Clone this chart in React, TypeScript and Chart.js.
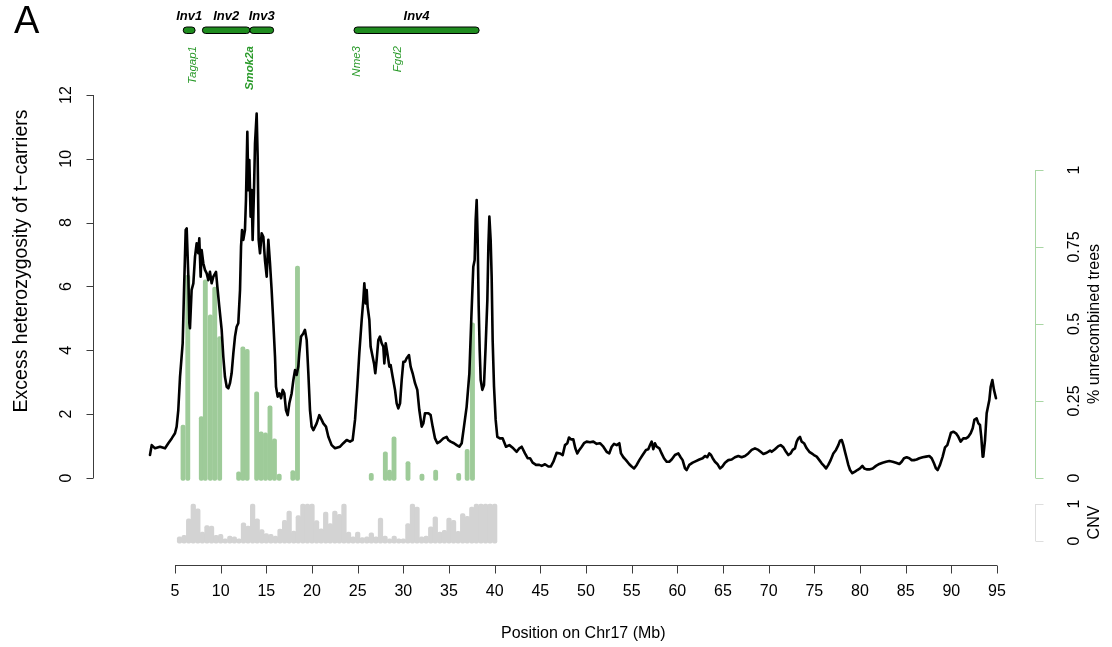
import React, { useEffect, useRef } from "react";
import { Chart, registerables } from "chart.js";

Chart.register(...registerables);

// Excess heterozygosity of t-carriers along chromosome 17 (position in Mb)
const positionMb = [
  2.26, 2.45, 2.81, 3.36, 3.91, 4.27, 4.64, 5.0, 5.18, 5.36, 5.55, 5.84, 5.99, 6.17, 6.28, 6.46, 6.57, 6.64,
  6.82, 7.01, 7.19, 7.37, 7.55, 7.66, 7.81, 7.92, 8.1, 8.28, 8.47, 8.65, 8.83, 9.01, 9.2, 9.49, 9.64, 9.85,
  10.11, 10.29, 10.47, 10.66, 10.84, 11.02, 11.2, 11.39, 11.57, 11.75, 11.93, 12.12, 12.23, 12.34, 12.48,
  12.66, 12.77, 12.92, 13.03, 13.14, 13.28, 13.39, 13.5, 13.65, 13.76, 13.94, 14.05, 14.16, 14.31, 14.49,
  14.67, 14.85, 15.04, 15.22, 15.4, 15.58, 15.77, 15.95, 16.06, 16.24, 16.42, 16.61, 16.79, 16.97, 17.15,
  17.34, 17.52, 17.77, 17.96, 18.14, 18.32, 18.5, 18.61, 18.8, 19.05, 19.23, 19.42, 19.6, 19.78, 19.96,
  20.15, 20.51, 20.8, 21.06, 21.24, 21.53, 21.79, 22.15, 22.52, 23.07,
  23.43, 23.8, 24.16, 24.45, 24.71, 24.96, 25.18, 25.44, 25.62, 25.73, 25.88, 25.99, 26.09, 26.28, 26.42,
  26.64, 26.79, 26.93, 27.08, 27.26, 27.44, 27.63, 27.81, 27.92, 28.07, 28.25, 28.47, 28.61, 28.83, 29.09,
  29.27, 29.45, 29.64, 29.82, 30.0, 30.18, 30.36, 30.62, 30.8, 31.02, 31.28, 31.53, 31.75, 32.01, 32.19,
  32.37, 32.74, 32.99, 33.21, 33.47, 33.72, 34.01, 34.38, 34.74, 34.93, 35.18, 35.55, 35.84, 36.13, 36.39,
  36.64, 36.93, 37.23, 37.45, 37.66, 37.81, 37.92, 38.03, 38.14, 38.25, 38.36, 38.47, 38.65, 38.83, 39.01,
  39.2, 39.31, 39.42, 39.56, 39.67, 39.78, 39.93, 40.11, 40.29, 40.58, 40.88, 41.24, 41.61, 42.04, 42.41,
  42.7, 42.96, 43.32, 43.61, 43.87,
  44.16, 44.53, 44.89, 45.15, 45.51, 45.88, 46.14, 46.43, 46.79, 47.15, 47.45, 47.7, 47.96, 48.14, 48.36,
  48.61, 48.83, 49.05, 49.27, 49.53, 49.78, 50.07, 50.44, 50.8, 51.17, 51.53, 51.9, 52.26, 52.55, 52.81,
  53.07, 53.36, 53.65, 53.83, 54.09, 54.38, 54.74, 55.0, 55.26, 55.55, 55.84, 56.2, 56.57, 56.82, 57.01,
  57.19, 57.37, 57.55, 57.74, 58.03, 58.28, 58.54, 58.83, 59.12, 59.38, 59.74, 60.11, 60.36, 60.58, 60.84,
  61.02, 61.31, 61.68, 62.04, 62.41, 62.77, 63.03, 63.28, 63.5, 63.69, 63.87, 64.12, 64.38, 64.67, 64.93,
  65.22, 65.58, 65.95, 66.31, 66.68, 67.04, 67.41, 67.77, 68.14, 68.5, 68.87, 69.12, 69.42, 69.78, 70.15,
  70.33, 70.69, 71.06, 71.31, 71.61, 71.9, 72.15, 72.41, 72.63, 72.88, 73.07, 73.25, 73.43, 73.61, 73.87,
  74.16, 74.45, 74.71, 74.96, 75.26, 75.55, 75.8, 76.06, 76.28, 76.53, 76.79, 77.08, 77.37, 77.63, 77.81,
  78.0, 78.18, 78.36, 78.54, 78.72, 78.91, 79.16, 79.45, 79.71, 80.0, 80.26, 80.47, 80.73, 81.02, 81.39,
  81.75, 82.12, 82.48, 82.85, 83.21, 83.58, 83.94, 84.31, 84.56, 84.82, 85.11, 85.4, 85.66, 85.91, 86.2,
  86.5, 86.86, 87.23, 87.59, 87.85, 88.1, 88.32, 88.5, 88.76, 89.05, 89.31, 89.56, 89.78, 89.96, 90.22,
  90.51, 90.77, 91.02, 91.31, 91.61, 91.86, 92.12, 92.34, 92.52, 92.77, 92.96, 93.14, 93.28, 93.43, 93.5,
  93.69, 93.87, 94.05, 94.16, 94.31, 94.49, 94.67, 94.89,
];
const excessHet = [
  0.72, 1.03, 0.93, 0.98, 0.93, 1.09, 1.24, 1.4, 1.61, 2.13, 3.17, 4.22, 5.89, 7.77, 7.82, 6.31, 4.85, 4.69,
  5.89, 6.1, 6.93, 7.35, 7.04, 7.51, 6.31, 7.14, 6.73, 6.52, 6.41, 6.2, 6.46, 6.1, 6.31, 6.46, 5.99, 5.37,
  4.64, 3.8, 3.17, 2.86, 2.81, 2.97, 3.28, 3.91, 4.43, 4.74, 4.85, 5.89, 7.25, 7.77, 7.46,
  7.77, 8.71, 10.85, 9.02, 9.96, 8.19, 9.02, 7.46, 9.02, 10.48, 11.42, 10.07, 7.46, 7.04, 7.67,
  7.56, 6.83, 6.31, 7.46, 6.73, 5.89, 4.85, 3.8, 2.86, 2.55, 2.65, 2.5, 2.76, 2.65, 2.13,
  1.97, 2.34, 2.65, 3.07, 3.38, 3.23, 3.49, 3.91, 4.43, 4.53, 4.64, 4.32, 3.28, 2.13, 1.61,
  1.5, 1.71, 1.97, 1.82, 1.71, 1.61, 1.29, 1.03, 0.93, 0.98,
  1.09, 1.19, 1.14, 1.19, 1.82, 2.86, 3.91, 4.95, 5.58, 6.1, 5.47, 5.89, 5.37, 4.95, 4.11,
  3.8, 3.59, 3.28, 3.7, 4.32, 4.43, 4.22, 4.11, 3.59, 4.22, 3.91, 3.49, 3.54, 3.17, 2.76,
  2.34, 2.18, 2.34, 3.07, 3.64, 3.64, 3.75, 3.85, 3.49, 3.28, 2.97, 2.76, 2.13, 1.61, 1.71,
  2.03, 2.03, 1.97, 1.61, 1.24, 1.09, 1.14, 1.24, 1.29, 1.19, 1.14, 1.09, 1.03, 0.98, 1.09,
  1.61, 2.23, 3.28, 5.05, 6.62, 6.83, 8.08, 8.71, 7.46, 5.37, 4.01, 3.07, 2.76, 2.91, 4.11,
  5.58, 7.25, 8.19, 7.46, 6.31, 4.32, 2.86, 1.82, 1.29, 1.24, 1.24, 0.98, 1.03, 0.93, 0.82,
  0.93, 0.98, 0.77, 0.62, 0.62,
  0.48, 0.41, 0.41, 0.38, 0.43, 0.36, 0.36, 0.51, 0.79, 0.77, 0.72, 1.03, 1.09, 1.27, 1.21,
  1.21, 0.93, 0.77, 0.88, 0.98, 1.09, 1.14, 1.12, 1.14, 1.07, 1.09, 0.98, 0.82, 0.77, 0.98,
  1.07, 1.03, 1.09, 0.77, 0.65, 0.56, 0.43, 0.36, 0.3, 0.41, 0.56, 0.72, 0.88, 0.9, 1.03,
  1.14, 0.9, 1.09, 0.98, 0.93, 0.77, 0.62, 0.51, 0.51, 0.58, 0.72, 0.77, 0.65, 0.56, 0.3,
  0.25, 0.41, 0.48, 0.53, 0.58, 0.62, 0.69, 0.65, 0.77, 0.72, 0.62, 0.51, 0.44, 0.3, 0.36,
  0.48, 0.56, 0.58, 0.65, 0.69, 0.65, 0.69, 0.77, 0.88, 0.93, 0.88, 0.82, 0.75, 0.79, 0.86,
  0.82, 0.9, 1.0, 1.03, 0.96, 0.82, 0.72, 0.77, 0.88, 0.93, 1.14, 1.24, 1.29, 1.14, 1.09,
  0.93, 0.82, 0.77, 0.72, 0.67, 0.56, 0.46, 0.38, 0.3, 0.41, 0.56, 0.77, 0.88, 1.03, 1.17,
  1.19, 1.03, 0.82, 0.62, 0.41, 0.25, 0.15, 0.2, 0.25, 0.3, 0.38, 0.3, 0.27, 0.27, 0.3,
  0.38, 0.44, 0.48, 0.51, 0.53, 0.51, 0.48, 0.44, 0.51, 0.62, 0.65, 0.62, 0.56, 0.56, 0.58,
  0.62, 0.65, 0.67, 0.69, 0.62, 0.46, 0.3, 0.25, 0.41, 0.67, 0.96, 1.03, 1.24, 1.42, 1.45,
  1.4, 1.29, 1.14, 1.24, 1.24, 1.29, 1.4, 1.56, 1.82, 1.87, 1.71, 1.66, 1.29, 0.67, 0.67,
  1.19, 2.03, 2.29, 2.44, 2.86, 3.07, 2.76, 2.5,
];

// Share of unrecombined trees (right axis)
const treePosMb = [
  5.88, 6.4, 7.88, 8.32, 8.87, 9.35, 9.89, 11.97, 12.43, 12.9, 13.94, 14.43, 14.91, 15.4, 15.89, 16.41,
  17.9, 18.41, 26.49, 28.03, 28.49, 28.98, 30.51, 32.04, 33.54, 36.06, 36.99, 37.57,
];
const treeShare = [
  0.172, 0.659, 0.199, 0.643, 0.53, 0.62, 0.459, 0.02, 0.426, 0.418, 0.28, 0.15, 0.147, 0.234, 0.127, 0.013,
  0.024, 0.688, 0.015, 0.085, 0.026, 0.134, 0.053, 0.013, 0.026, 0.015, 0.093, 0.504,
];

// Copy-number variation in 0.5 Mb windows
const cnvPosMb = [
  5.5, 6, 6.5, 7, 7.5, 8, 8.5, 9, 9.5, 10, 10.5, 11, 11.5, 12, 12.5, 13, 13.5, 14, 14.5, 15, 15.5, 16, 16.5,
  17, 17.5, 18, 18.5, 19, 19.5, 20, 20.5, 21, 21.5, 22, 22.5, 23, 23.5, 24, 24.5, 25, 25.5, 26, 26.5, 27,
  27.5, 28, 28.5, 29, 29.5, 30, 30.5, 31, 31.5, 32, 32.5, 33, 33.5, 34, 34.5, 35, 35.5, 36, 36.5, 37, 37.5,
  38, 38.5, 39, 39.5, 40,
];
const cnvValue = [
  0.11, 0.15, 0.6, 1.0, 0.87, 0.24, 0.42, 0.4, 0.15, 0.18,
  0.06, 0.13, 0.11, 0.06, 0.49, 0.4, 1.0, 0.6, 0.31, 0.2,
  0.18, 0.13, 0.32, 0.56, 0.81, 0.27, 0.69, 1.0, 1.0, 1.0,
  0.55, 0.33, 0.78, 0.47, 0.81, 0.72, 1.0, 0.24, 0.11, 0.24,
  0.09, 0.11, 0.22, 0.11, 0.62, 0.13, 0.06, 0.13, 0.06, 0.06,
  0.47, 1.0, 0.92, 0.11, 0.13, 0.38, 0.65, 0.24, 0.29, 0.62,
  0.56, 0.26, 0.74, 0.67, 0.92, 1.0, 1.0, 1.0, 1.0, 1.0,
];

// Axis ticks
const xTicks = [5, 10, 15, 20, 25, 30, 35, 40, 45, 50, 55, 60, 65, 70, 75, 80, 85, 90, 95];
const hetTicks = [0, 2, 4, 6, 8, 10, 12];
const treeTicks = [0, 0.25, 0.5, 0.75, 1];
const treeTickLabels = ["0", "0.25", "0.5", "0.75", "1"];
const cnvTicks = [0, 1];

// Inversions and genes annotated above the plot
const invNames = ["Inv1", "Inv2", "Inv3", "Inv4"];
const invStartMb = [5.9, 8.0, 13.2, 24.6];
const invEndMb = [7.2, 13.2, 15.8, 38.3];
const geneNames = ["Tagap1", "Smok2a", "Nme3", "Fgd2"];
const genePosMb = [6.9, 13.2, 24.9, 29.4];
const geneBold = [false, true, false, false];

const FONT = '"Liberation Sans", Arial, Helvetica, sans-serif';
const TREE_GREEN = "#9ecb99";
const AXIS_GREEN = "#a9d6a4";
const CNV_GREY = "#d3d3d3";
const INV_GREEN = "#1f8c1f";
const GENE_GREEN = "#2a9a2a";

function vText(ctx: CanvasRenderingContext2D, text: string, x: number, y: number) {
  ctx.save();
  ctx.translate(x, y);
  ctx.rotate(-Math.PI / 2);
  ctx.fillText(text, 0, 0);
  ctx.restore();
}

const frame = {
  id: "frame",
  afterDraw(chart: any) {
    const { ctx, chartArea: area, scales } = chart;
    const sx = scales.x;
    const sy = scales.y;
    const sg = scales.y2;
    const sc = scales.y3;
    const L = area.left;
    const R = area.right;
    const B = area.bottom;

    ctx.save();
    ctx.lineWidth = 1;
    ctx.textAlign = "center";
    ctx.textBaseline = "middle";
    ctx.font = `16px ${FONT}`;
    ctx.fillStyle = "#000";

    // bottom axis
    const yb = Math.round(B) + 0.5;
    ctx.strokeStyle = "#3c3c3c";
    ctx.beginPath();
    ctx.moveTo(sx.getPixelForValue(xTicks[0]), yb);
    ctx.lineTo(sx.getPixelForValue(xTicks[xTicks.length - 1]), yb);
    xTicks.forEach((t) => {
      const p = Math.round(sx.getPixelForValue(t)) + 0.5;
      ctx.moveTo(p, yb);
      ctx.lineTo(p, yb + 8);
    });
    ctx.stroke();
    xTicks.forEach((t) => ctx.fillText(String(t), sx.getPixelForValue(t), B + 27));
    ctx.fillText("Position on Chr17 (Mb)", sx.getPixelForValue(49.7), B + 69);

    // left axis
    const xl = Math.round(L) + 0.5;
    ctx.beginPath();
    ctx.moveTo(xl, sy.getPixelForValue(hetTicks[0]));
    ctx.lineTo(xl, sy.getPixelForValue(hetTicks[hetTicks.length - 1]));
    hetTicks.forEach((t) => {
      const p = Math.round(sy.getPixelForValue(t)) + 0.5;
      ctx.moveTo(xl, p);
      ctx.lineTo(xl - 7, p);
    });
    ctx.stroke();
    hetTicks.forEach((t) => vText(ctx, String(t), L - 26, sy.getPixelForValue(t)));
    ctx.font = `19.5px ${FONT}`;
    vText(ctx, "Excess heterozygosity of t\u2212carriers", L - 71, sy.getPixelForValue(6.8));
    ctx.font = `16px ${FONT}`;

    // right axis: unrecombined trees
    const xr = Math.round(R) + 0.5;
    ctx.strokeStyle = AXIS_GREEN;
    ctx.beginPath();
    ctx.moveTo(xr, sg.getPixelForValue(treeTicks[0]));
    ctx.lineTo(xr, sg.getPixelForValue(treeTicks[treeTicks.length - 1]));
    treeTicks.forEach((t) => {
      const p = Math.round(sg.getPixelForValue(t)) + 0.5;
      ctx.moveTo(xr, p);
      ctx.lineTo(xr + 8, p);
    });
    ctx.stroke();
    treeTicks.forEach((t, i) => vText(ctx, treeTickLabels[i], R + 40, sg.getPixelForValue(t)));
    vText(ctx, "% unrecombined trees", R + 60, sg.getPixelForValue(0.5));

    // right axis: CNV
    ctx.strokeStyle = "#dedede";
    ctx.beginPath();
    ctx.moveTo(xr, sc.getPixelForValue(cnvTicks[0]));
    ctx.lineTo(xr, sc.getPixelForValue(cnvTicks[cnvTicks.length - 1]));
    cnvTicks.forEach((t) => {
      const p = Math.round(sc.getPixelForValue(t)) + 0.5;
      ctx.moveTo(xr, p);
      ctx.lineTo(xr + 8, p);
    });
    ctx.stroke();
    cnvTicks.forEach((t) => vText(ctx, String(t), R + 40, sc.getPixelForValue(t)));
    vText(ctx, "CNV", R + 60, sc.getPixelForValue(0.5));

    // inversions
    invNames.forEach((name, i) => {
      const x0 = sx.getPixelForValue(invStartMb[i]);
      const x1 = sx.getPixelForValue(invEndMb[i]);
      ctx.beginPath();
      ctx.roundRect(x0, 27, x1 - x0, 6.5, 3.25);
      ctx.fillStyle = INV_GREEN;
      ctx.fill();
      ctx.strokeStyle = "#000";
      ctx.stroke();
      ctx.fillStyle = "#000";
      ctx.font = `italic bold 13px ${FONT}`;
      ctx.fillText(name, (x0 + x1) / 2, 16);
    });

    // genes
    ctx.fillStyle = GENE_GREEN;
    geneNames.forEach((g, i) => {
      ctx.font = `italic ${geneBold[i] ? "bold " : ""}11.5px ${FONT}`;
      ctx.save();
      ctx.translate(sx.getPixelForValue(genePosMb[i]), 46);
      ctx.rotate(-Math.PI / 2);
      ctx.textAlign = "right";
      ctx.fillText(g, 0, 0);
      ctx.restore();
    });

    // panel letter
    ctx.fillStyle = "#000";
    ctx.font = `38px ${FONT}`;
    ctx.textAlign = "left";
    ctx.textBaseline = "alphabetic";
    ctx.fillText("A", 14, 33);
    ctx.restore();
  },
};

export default function App() {
  const ref = useRef<HTMLCanvasElement>(null);

  useEffect(() => {
    const lineData = positionMb.map((x, i) => ({ x, y: excessHet[i] }));
    const treeData = treePosMb.map((x, i) => ({ x, y: treeShare[i] }));
    const cnvData = cnvPosMb.map((x, i) => ({ x, y: cnvValue[i] }));

    const chart = new Chart(ref.current as HTMLCanvasElement, {
      type: "bar",
      data: {
        datasets: [
          {
            type: "line",
            data: lineData,
            yAxisID: "y",
            borderColor: "#000",
            borderWidth: 2.6,
            pointRadius: 0,
            tension: 0,
            borderJoinStyle: "round",
            borderCapStyle: "round",
            order: 0,
          } as any,
          {
            type: "bar",
            data: treeData,
            yAxisID: "y2",
            backgroundColor: TREE_GREEN,
            barThickness: 4.2,
            grouped: false,
            base: -0.008,
            borderRadius: 2,
            borderSkipped: false,
            order: 1,
          } as any,
          {
            type: "bar",
            data: cnvData,
            yAxisID: "y3",
            backgroundColor: CNV_GREY,
            barThickness: 4.6,
            grouped: false,
            base: -0.06,
            borderRadius: 2,
            borderSkipped: false,
            order: 2,
          } as any,
        ],
      },
      options: {
        responsive: false,
        animation: false,
        devicePixelRatio: 1,
        events: [],
        layout: { padding: { left: 93, right: 77, top: 95, bottom: 82 } },
        plugins: { legend: { display: false }, tooltip: { enabled: false } },
        scales: {
          x: { type: "linear", min: -3.978, max: 99.161, offset: false, display: false },
          y: { type: "linear", min: -2.726, max: 12, display: false },
          y2: { type: "linear", min: -0.2825, max: 1.2435, display: false },
          y3: { type: "linear", min: -0.6486, max: 12.054, display: false },
        },
      } as any,
      plugins: [frame],
    });
    return () => chart.destroy();
  }, []);

  return (
    <canvas
      ref={ref}
      width={1112}
      height={647}
      style={{ position: "absolute", left: 0, top: 0, width: 1112, height: 647, display: "block" }}
    />
  );
}
